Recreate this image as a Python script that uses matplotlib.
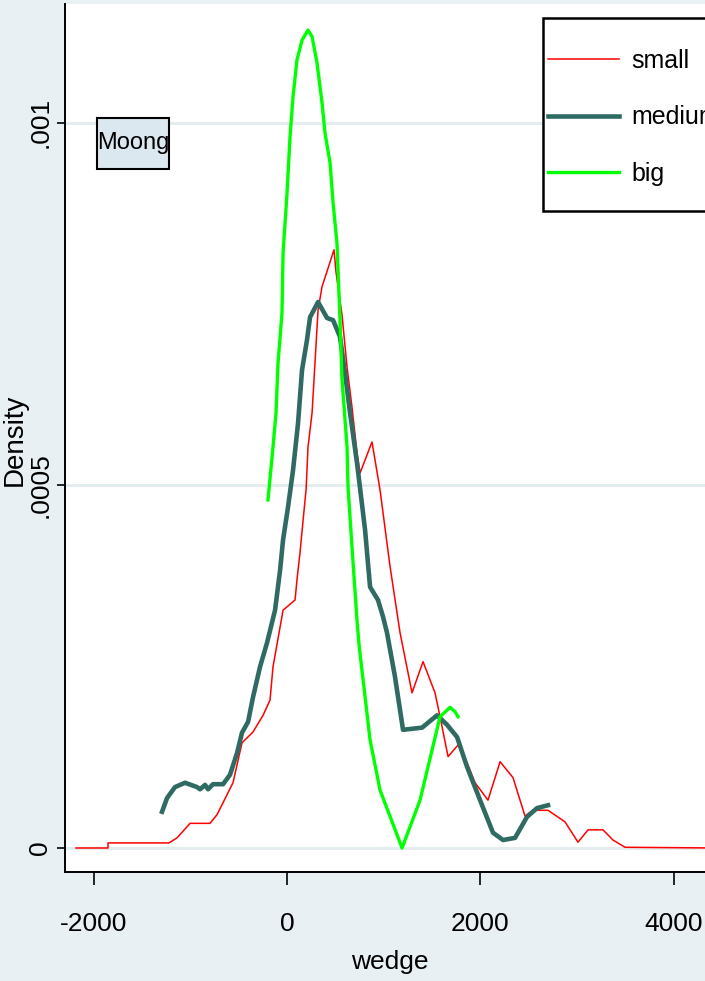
import numpy as np
import matplotlib
matplotlib.use('Agg')
import matplotlib.pyplot as plt
from matplotlib.patches import Rectangle

# kernel density of wedge, Moong
small_x = [-2183, -1852, -1852, -1221, -1138, -1003, -797, -724, -559, -466, -352, -248, -176,
           -145, -41, 83, 103, 134, 166, 197, 217, 259, 279, 321, 362, 486, 507, 569, 621, 672,
           724, 755, 879, 962, 1066, 1169, 1293, 1407, 1531, 1583, 1666, 1769, 1821, 1945, 2079,
           2204, 2338, 2462, 2545, 2700, 2876, 3010, 3114, 3269, 3372, 3497, 4450]
small_y = [0, 0, 0.000007, 0.000007, 0.000014, 0.000034, 0.000034, 0.000046, 0.000090, 0.000145,
           0.000160, 0.000183, 0.000204, 0.000250, 0.000328, 0.000342, 0.000370, 0.000407,
           0.000452, 0.000494, 0.000553, 0.000600, 0.000646, 0.000742, 0.000774, 0.000825,
           0.000794, 0.000735, 0.000663, 0.000608, 0.000545, 0.000517, 0.000560, 0.000494,
           0.000388, 0.000297, 0.000214, 0.000257, 0.000214, 0.000181, 0.000126, 0.000142,
           0.000131, 0.000090, 0.000066, 0.000119, 0.000097, 0.000044, 0.000052, 0.000052,
           0.000036, 0.000008, 0.000025, 0.000025, 0.000011, 0.000001, 0]

medium_x = [-1293, -1241, -1159, -1055, -931, -900, -848, -817, -766, -662, -590, -517, -466,
            -403, -352, -279, -207, -124, -72, -41, 10, 62, 114, 155, 207, 238, 321, 414, 476,
            548, 600, 652, 724, 807, 859, 941, 993, 1034, 1117, 1200, 1397, 1552, 1655, 1759,
            1862, 1997, 2131, 2235, 2359, 2483, 2586, 2700]
medium_y = [0.000050, 0.000069, 0.000084, 0.000090, 0.000084, 0.000081, 0.000087, 0.000081,
            0.000088, 0.000088, 0.000101, 0.000131, 0.000159, 0.000174, 0.000208, 0.000250,
            0.000283, 0.000328, 0.000383, 0.000425, 0.000470, 0.000521, 0.000586, 0.000659,
            0.000701, 0.000732, 0.000753, 0.000731, 0.000728, 0.000705, 0.000655, 0.000600,
            0.000531, 0.000439, 0.000360, 0.000342, 0.000319, 0.000297, 0.000236, 0.000163,
            0.000166, 0.000183, 0.000170, 0.000153, 0.000112, 0.000066, 0.000021, 0.000011,
            0.000014, 0.000043, 0.000055, 0.000059]

big_x = [-197, -145, -114, -93, -52, -41, 0, 31, 62, 103, 155, 217, 259, 310, 362, 393, 445,
         476, 517, 548, 569, 621, 631, 672, 724, 745, 859, 962, 1190, 1376, 1583, 1686, 1738, 1769]
big_y = [0.000480, 0.000553, 0.000600, 0.000669, 0.000738, 0.000821, 0.000903, 0.000981,
         0.001036, 0.001087, 0.001114, 0.001128, 0.001119, 0.001083, 0.001028, 0.000986,
         0.000945, 0.000890, 0.000834, 0.000728, 0.000646, 0.000553, 0.000498, 0.000415,
         0.000314, 0.000280, 0.000149, 0.000080, 0, 0.000066, 0.000181, 0.000194, 0.000188,
         0.000181]

xticks = [-2000, 0, 2000, 4000]
yticks = [0, 0.0005, 0.001]
ytick_labels = ['0', '.0005', '.001']

fnt = ['Liberation Sans', 'DejaVu Sans']

W, H = 705, 981
fig = plt.figure(figsize=(7.05, 9.81), dpi=100, facecolor='#e9f0f3')
ax = fig.add_axes([65/W, 1-872/H, 1-65/W, (872-4)/H])
ax.set_facecolor('white')

for yv in yticks:
    ax.axhline(yv, color='#e3ecef', lw=2.2, zorder=0)

ax.plot(small_x, small_y, color='#ff0000', lw=1.1, label='small')
ax.plot(medium_x, medium_y, color='#2f6b63', lw=3.3, label='medium')
ax.plot(big_x, big_y, color='#00ff00', lw=2.4, label='big')

ax.set_xlim(-2297, 4324)
ax.set_ylim(-0.0000331, 0.001164)

for s in ['top', 'right']:
    ax.spines[s].set_visible(False)
ax.spines['left'].set_linewidth(1.4)
ax.spines['bottom'].set_linewidth(1.4)

ax.set_xticks(xticks)
ax.set_xticklabels([str(v) for v in xticks], family=fnt, fontsize=19)
ax.tick_params(axis='x', length=9, width=1.2, pad=20)
ax.set_yticks(yticks)
ax.set_yticklabels(ytick_labels, family=fnt, fontsize=19, rotation=90, va='center')
ax.tick_params(axis='y', length=6, width=1.2, pad=3)

ax.set_xlabel('wedge', family=fnt, fontsize=19, va='center')
ax.xaxis.set_label_coords((390-65)/640, (872-962)/868)
ax.set_ylabel('Density', family=fnt, fontsize=20, va='center')
ax.yaxis.set_label_coords((15-65)/640, (872-440)/868)

# Moong label box
ax.add_patch(Rectangle((97/W, 1-169/H), 72/W, 51/H, transform=fig.transFigure, clip_on=False,
                       facecolor='#dce8ef', edgecolor='black', lw=1.5, zorder=4))
ax.text(133/W, 1-143/H, 'Moong', transform=fig.transFigure, family=fnt, fontsize=17,
        ha='center', va='center', zorder=5)

# legend box
ax.add_patch(Rectangle((543/W, 1-211/H), 200/W, 193/H, transform=fig.transFigure, clip_on=False,
                       facecolor='white', edgecolor='black', lw=1.8, zorder=4))
leg = ax.legend(loc='upper left', bbox_to_anchor=(548/W, 1-49/H), bbox_transform=fig.transFigure,
                prop={'family': fnt, 'size': 18}, frameon=False, handlelength=2.85,
                handletextpad=0.5, labelspacing=1.3, borderpad=0, borderaxespad=0)
leg.set_zorder(6)

fig.savefig('out.png', dpi=100, facecolor=fig.get_facecolor())
